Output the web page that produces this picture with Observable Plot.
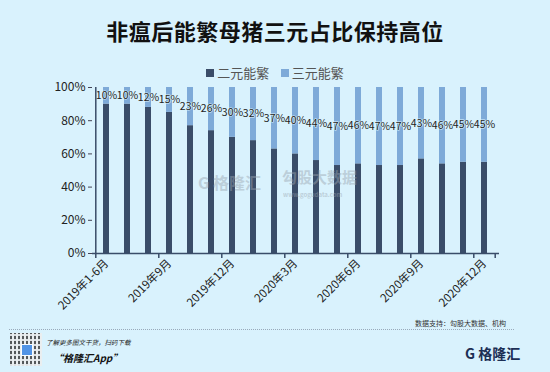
<!DOCTYPE html>
<html><head><meta charset="utf-8">
<script src="https://cdn.jsdelivr.net/npm/d3@7"></script>
<script src="https://cdn.jsdelivr.net/npm/@observablehq/plot@0.6"></script>
<style>
body{margin:0;padding:0;}
#wrap{position:relative;width:550px;height:372px;background:#d9f2fd;overflow:hidden;font-family:"Noto Sans CJK SC","Noto Sans",sans-serif;}
#title{position:absolute;top:14px;left:0;width:550px;text-align:center;font-size:22px;font-weight:bold;color:#111;letter-spacing:0.5px;}
#legend{position:absolute;top:63px;left:0;width:550px;text-align:center;font-size:13px;color:#555;}
#legend span.sw{display:inline-block;width:8px;height:8px;margin-right:3px;vertical-align:1px;}
#plot{position:absolute;top:0;left:0;}
.wm{position:absolute;color:#9aa5b0;opacity:0.45;font-weight:bold;white-space:nowrap;}
#src{position:absolute;top:318px;right:44px;font-size:7px;color:#333;}
#line{position:absolute;top:329px;left:9px;width:505px;border-top:1px dotted #9ab;}
#qr{position:absolute;top:333px;left:10px;width:32px;height:33px;background:
 repeating-linear-gradient(0deg,rgba(238,238,238,0.9) 0 2px,transparent 2px 5px),
 repeating-linear-gradient(90deg,#333 0 2px,#eee 2px 4px);opacity:0.8;}
#qr div{position:absolute;left:11px;top:11px;width:10px;height:10px;background:#2f7de1;border:1px solid #fff;}
#t1{position:absolute;top:337px;left:46px;font-size:6.5px;font-style:italic;color:#222;}
#t2{position:absolute;top:350px;left:53px;font-size:10px;font-style:italic;font-weight:bold;color:#111;}
#logo{position:absolute;top:343px;left:465px;font-size:14px;font-weight:bold;color:#1c2f55;}
</style></head>
<body><div id="wrap">
<div id="title">非瘟后能繁母猪三元占比保持高位</div>
<div id="legend"><span class="sw" style="background:#3a4d69"></span>二元能繁&nbsp;&nbsp;&nbsp;&nbsp;<span class="sw" style="background:#7eaad8"></span>三元能繁</div>
<div id="plot"></div>
<div class="wm" style="top:170px;left:198px;font-size:16px;">G 格隆汇</div>
<div class="wm" style="top:166px;left:282px;font-size:15px;">勾股大数据</div>
<div class="wm" style="top:190px;left:283px;font-size:6px;">www.gogudata.com</div>
<div id="src">数据支持：勾股大数据、机构</div>
<div id="line"></div>
<div id="qr"><div></div></div>
<div id="t1">了解更多图文干货，扫码下载</div>
<div id="t2">“格隆汇App”</div>
<div id="logo">G 格隆汇</div>
</div>
<script>
const months = ["2019年1-6月","2019年7月","2019年8月","2019年9月","2019年10月","2019年11月","2019年12月",
"2020年1月","2020年2月","2020年3月","2020年4月","2020年5月","2020年6月","2020年7月","2020年8月","2020年9月",
"2020年10月","2020年11月","2020年12月"];
const sanyuan = [10,10,12,15,23,26,30,32,37,40,44,47,46,47,47,43,46,45,45];
const eryuan = sanyuan.map(v => 100 - v);
const tickLabels = ["2019年1-6月","2019年9月","2019年12月","2020年3月","2020年6月","2020年9月","2020年12月"];
const series = ["二元能繁","三元能繁"];
const colors = ["#3a4d69","#7eaad8"];

const long = [];
months.forEach((m,i) => {
  long.push({month:m, series:series[0], value:eryuan[i]});
  long.push({month:m, series:series[1], value:sanyuan[i]});
});
const labels = months.map((m,i) => ({month:m, v:sanyuan[i]}));

const W = 550, H = 320, mL = 92, mR = 51;
const step = (W - mL - mR) / months.length;

const chart = Plot.plot({
  width: W, height: H,
  marginTop: 87, marginBottom: 67, marginLeft: mL, marginRight: mR,
  style: {background: "transparent", fontFamily: "'Noto Sans CJK SC','Noto Sans',sans-serif", color: "#222"},
  x: {domain: months, padding: 0.7, paddingOuter: 0.35, align: 0.5, label: null},
  y: {domain: [0, 100], label: null},
  color: {domain: series, range: colors},
  marks: [
    Plot.barY(long, {x: "month", y: "value", fill: "series", order: series}),
    Plot.text(labels, {x: "month", y: d => 100 - d.v / 2, text: d => d.v + "%", fontSize: 10.5, fill: "#222", stroke: "#d9f2fd", strokeWidth: 1.2, paintOrder: "stroke"}),
    Plot.axisY({ticks: [0,20,40,60,80,100], tickFormat: d => d + "%", tickSize: 4, fontSize: 12, tickPadding: 3, stroke: "#445", label: null}),
    Plot.ruleY([0], {stroke: "#3a4d69", strokeWidth: 1.5}),
    Plot.ruleX([months[0]], {y1: 0, y2: 100, dx: -step/2, stroke: "#3a4d69", strokeWidth: 1.5}),
    Plot.ruleX(tickLabels, {y1: 0, y2: -3, dx: -step/2, stroke: "#3a4d69", strokeWidth: 1.5}),
    Plot.ruleX([months[months.length-1]], {y1: 0, y2: -3, dx: step/2, stroke: "#3a4d69", strokeWidth: 1.5}),
    Plot.axisX({ticks: tickLabels, tickSize: 0, tickRotate: -45, fontSize: 11.5, tickPadding: 8, label: null})
  ]
});
document.getElementById("plot").appendChild(chart);
</script>
</body></html>
